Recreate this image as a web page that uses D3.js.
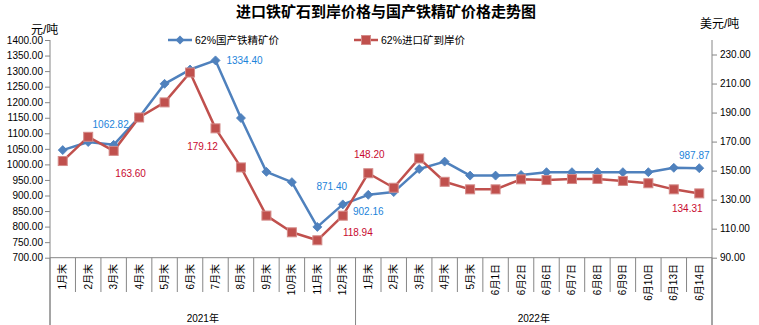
<!DOCTYPE html>
<html><head><meta charset="utf-8">
<script src="https://cdn.jsdelivr.net/npm/d3@7"></script>
<style>
body{margin:0;background:#fff;}
svg{display:block;font-family:"Liberation Sans",Arial,"Noto Sans CJK SC",sans-serif;}
.cjk{font-family:"Liberation Sans","Noto Sans CJK SC",sans-serif;}
</style></head>
<body><svg id="c" width="759" height="325"></svg>
<script>
// ---- data ----
const categories = ["1月末","2月末","3月末","4月末","5月末","6月末","7月末","8月末","9月末","10月末","11月末","12月末",
  "1月末","2月末","3月末","4月末","5月末","6月1日","6月2日","6月6日","6月7日","6月8日","6月9日","6月10日","6月13日","6月14日"];
const years = ["2021年","2022年"];
const yearCounts = [12,14];
const domesticPrice = [1046,1072,1062.82,1151,1259,1305,1334.40,1149,976,943,799,871.40,
  902.16,911,985,1009,964,964,966,975,975,975,975,975,989,987.87];
const importPrice = [156.6,173.3,163.60,186.6,197,217.6,179.12,152.2,119,107.5,102,118.94,
  148.20,138.2,158.4,142.3,137.1,137.1,144,143.5,144.2,144.2,142.9,141.3,137.1,134.31];
const leftTicks = [700,750,800,850,900,950,1000,1050,1100,1150,1200,1250,1300,1350,1400];
const rightTicks = [90,110,130,150,170,190,210,230];
const seriesNames = ["62%国产铁精矿价","62%进口矿到岸价"];
const title = "进口铁矿石到岸价格与国产铁精矿价格走势图";

// label placement (index -> offset)
const blueLabels = [{i:2,dx:-3,dy:-20},{i:6,dx:29,dy:0},{i:11,dx:-11,dy:-18},{i:12,dx:0,dy:17},{i:25,dx:-5,dy:-13}];
const redLabels = [{i:2,dx:17,dy:23},{i:6,dx:-13,dy:18},{i:11,dx:15,dy:17},{i:12,dx:1,dy:-19},{i:25,dx:-12,dy:15}];

const BLUE="#4F81BD", RED="#C0504D", AX="#868686";
const svg = d3.select("#c");
const L=50, R=712, T=40, B=257.7;

const x = d3.scaleBand().domain(d3.range(categories.length)).range([L,R]).padding(0);
const yL = d3.scaleLinear().domain([700,1400]).range([B,T]);
const yR = d3.scaleLinear().domain([90,240]).range([B,T]);

// title
svg.append("text").attr("class","cjk").attr("x",386).attr("y",11).attr("text-anchor","middle")
  .attr("dominant-baseline","central").attr("font-size",15).attr("font-weight","bold").attr("fill","#000").text(title);
svg.append("text").attr("class","cjk").attr("x",31).attr("y",30).attr("dominant-baseline","central")
  .attr("font-size",12).text("元/吨");
svg.append("text").attr("class","cjk").attr("x",700).attr("y",24).attr("dominant-baseline","central")
  .attr("font-size",12).text("美元/吨");

// axes
const gl = svg.append("g").attr("transform",`translate(${L},0)`)
  .call(d3.axisLeft(yL).tickValues(leftTicks).tickFormat(d3.format(".2f")).tickSize(5).tickSizeOuter(0));
const gr = svg.append("g").attr("transform",`translate(${R},0)`)
  .call(d3.axisRight(yR).tickValues(rightTicks).tickFormat(d3.format(".2f")).tickSize(5).tickSizeOuter(0));
[gl,gr].forEach(g=>{
  g.select(".domain").remove();
  g.selectAll(".tick line").attr("stroke",AX);
  g.selectAll(".tick text").attr("font-size",10).attr("fill","#000").attr("font-family","Liberation Sans, Arial");
});
gl.selectAll(".tick text").attr("x",-7);
gr.selectAll(".tick text").attr("x",8);

// axis lines
svg.append("line").attr("x1",L).attr("x2",L).attr("y1",T).attr("y2",325).attr("stroke",AX);
svg.append("line").attr("x1",R).attr("x2",R).attr("y1",T).attr("y2",325).attr("stroke",AX);
svg.append("line").attr("x1",L).attr("x2",R).attr("y1",B).attr("y2",B).attr("stroke",AX);

// category ticks
const bounds = d3.range(categories.length+1);
const groupBounds = [0]; yearCounts.reduce((a,c)=>{groupBounds.push(a+c);return a+c;},0);
bounds.forEach(i=>{
  const xx = i<categories.length ? x(i) : R;
  const isGroup = groupBounds.includes(i);
  svg.append("line").attr("x1",xx).attr("x2",xx).attr("y1",B).attr("y2",isGroup?325:292).attr("stroke",AX);
});
categories.forEach((c,i)=>{
  const cx = x(i)+x.bandwidth()/2;
  svg.append("text").attr("class","cjk").attr("transform",`translate(${cx},264) rotate(-90)`)
    .attr("text-anchor","end").attr("dominant-baseline","central").attr("font-size",10).text(c);
});
let acc=0;
years.forEach((yv,k)=>{
  const x0 = x(acc), x1 = (acc+yearCounts[k]<categories.length)? x(acc+yearCounts[k]) : R;
  svg.append("text").attr("class","cjk").attr("x",(x0+x1)/2).attr("y",318).attr("text-anchor","middle")
    .attr("dominant-baseline","central").attr("font-size",10).text(yv);
  acc+=yearCounts[k];
});

// lines
const cx = i=>x(i)+x.bandwidth()/2;
const lineB = d3.line().x((d,i)=>cx(i)).y(d=>yL(d));
const lineR = d3.line().x((d,i)=>cx(i)).y(d=>yR(d));
svg.append("path").datum(domesticPrice).attr("d",lineB).attr("fill","none").attr("stroke",BLUE).attr("stroke-width",2.5).attr("stroke-linejoin","round");
svg.append("path").datum(importPrice).attr("d",lineR).attr("fill","none").attr("stroke",RED).attr("stroke-width",2.5).attr("stroke-linejoin","round");

const diamond = "M0,-4.5L4.5,0L0,4.5L-4.5,0Z";
svg.selectAll(".mb").data(domesticPrice).enter().append("path").attr("d",diamond)
  .attr("transform",(d,i)=>`translate(${cx(i)},${yL(d)})`).attr("fill",BLUE).attr("stroke","#4A7EBB").attr("stroke-width",0.8);
svg.selectAll(".mr").data(importPrice).enter().append("rect")
  .attr("x",(d,i)=>cx(i)-4.5).attr("y",d=>yR(d)-4.5).attr("width",9).attr("height",9)
  .attr("fill",RED).attr("stroke","#D48B89").attr("stroke-width",1);

// data labels
blueLabels.forEach(o=>{
  svg.append("text").attr("x",cx(o.i)+o.dx).attr("y",yL(domesticPrice[o.i])+o.dy).attr("text-anchor","middle")
    .attr("dominant-baseline","central").attr("font-size",10).attr("fill","#1C84DA").text(d3.format(".2f")(domesticPrice[o.i]));
});
redLabels.forEach(o=>{
  svg.append("text").attr("x",cx(o.i)+o.dx).attr("y",yR(importPrice[o.i])+o.dy).attr("text-anchor","middle")
    .attr("dominant-baseline","central").attr("font-size",10).attr("fill","#C80A30").text(d3.format(".2f")(importPrice[o.i]));
});

// legend
const lg = svg.append("g");
lg.append("line").attr("x1",168).attr("x2",192).attr("y1",40).attr("y2",40).attr("stroke",BLUE).attr("stroke-width",2.5);
lg.append("path").attr("d",diamond).attr("transform","translate(180,40)").attr("fill",BLUE);
lg.append("text").attr("class","cjk").attr("x",195).attr("y",40).attr("dominant-baseline","central").attr("font-size",10.5).text(seriesNames[0]);
lg.append("line").attr("x1",354).attr("x2",378).attr("y1",40).attr("y2",40).attr("stroke",RED).attr("stroke-width",2.5);
lg.append("rect").attr("x",361.5).attr("y",35.5).attr("width",9).attr("height",9).attr("fill",RED).attr("stroke","#D48B89");
lg.append("text").attr("class","cjk").attr("x",381).attr("y",40).attr("dominant-baseline","central").attr("font-size",10.5).text(seriesNames[1]);
</script></body></html>
